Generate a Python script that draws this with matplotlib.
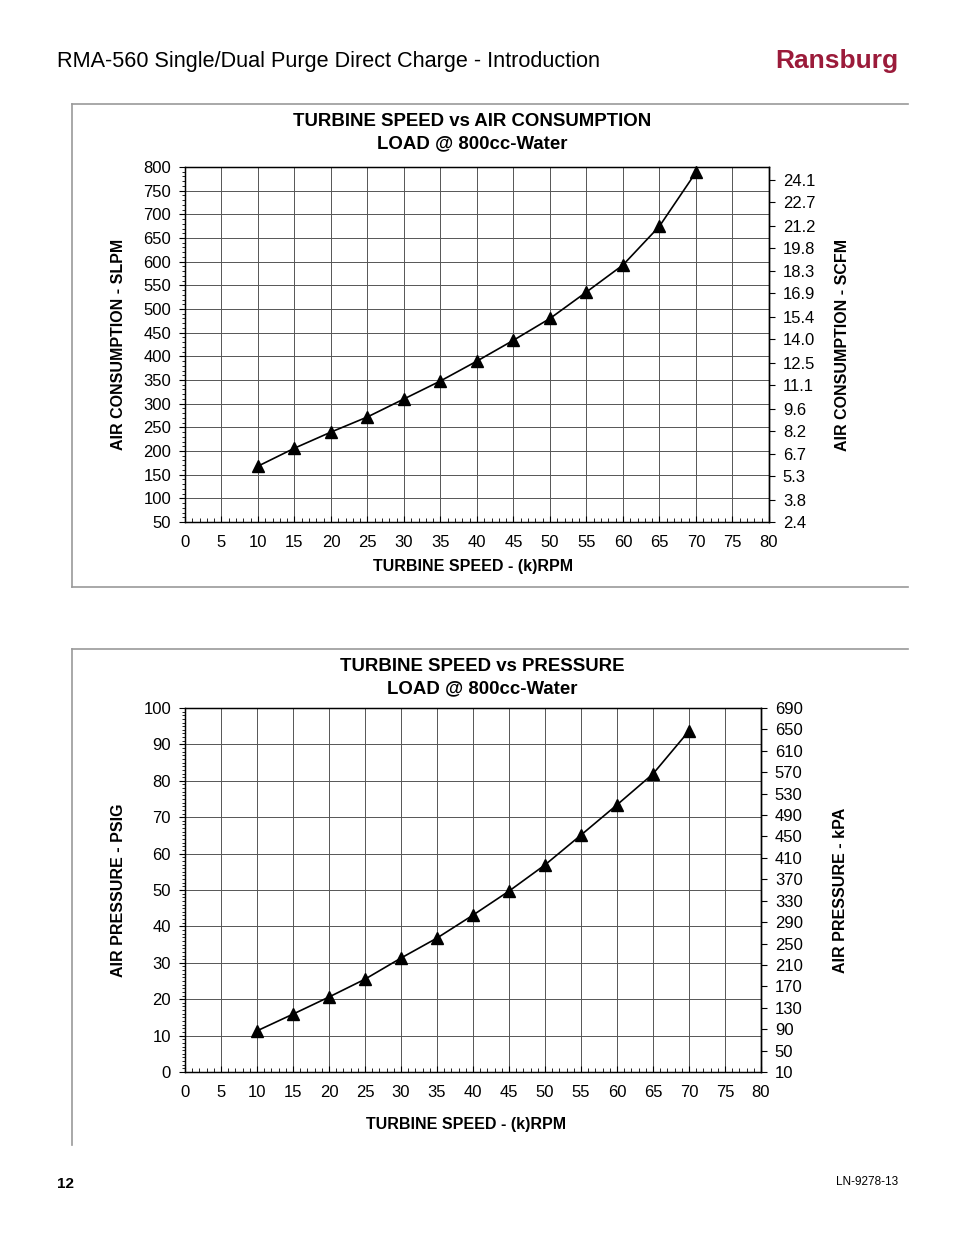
import numpy as np
import matplotlib
matplotlib.use('Agg')
import matplotlib.pyplot as plt
from matplotlib.lines import Line2D
from matplotlib.ticker import MultipleLocator

plt.rcParams['font.family'] = ['Liberation Sans', 'DejaVu Sans']

# data
speed = [10, 15, 20, 25, 30, 35, 40, 45, 50, 55, 60, 65, 70]   # (k)RPM
air_slpm = [168, 206, 240, 272, 310, 348, 390, 434, 480, 536, 593, 675, 789]
press_psig = [11.3, 15.9, 20.6, 25.5, 31.3, 36.8, 43.1, 49.7, 56.9, 65.1, 73.4, 81.9, 93.7]

scfm_labels = ['2.4', '3.8', '5.3', '6.7', '8.2', '9.6', '11.1', '12.5', '14.0',
               '15.4', '16.9', '18.3', '19.8', '21.2', '22.7', '24.1']
kpa_labels = [str(v) for v in range(10, 691, 40)]

W, H = 954, 1235
fig = plt.figure(figsize=(W / 100, H / 100), dpi=100)

def fx(px):
    return px / W

def fy(py):
    return 1 - py / H

# page header / footer
fig.text(fx(57), fy(62), 'RMA-560 Single/Dual Purge Direct Charge - Introduction',
         fontsize=15.6, va='center', ha='left')
fig.text(fx(898), fy(61), 'Ransburg', fontsize=19, fontweight='bold', color='#9b1b3a',
         va='center', ha='right')
fig.text(fx(57), fy(1184), '12', fontsize=11, fontweight='bold', va='center', ha='left')
fig.text(fx(898), fy(1182), 'LN-9278-13', fontsize=8.5, va='center', ha='right')

# frame lines around the chart panels
gray = '#999999'
for xs, ys in [((72, 908), (104, 104)), ((72, 72), (104, 587)), ((72, 908), (587, 587)),
               ((72, 908), (649, 649)), ((72, 72), (649, 1145))]:
    fig.add_artist(Line2D([fx(xs[0]), fx(xs[1])], [fy(ys[0]), fy(ys[1])],
                          color=gray, lw=1.2, transform=fig.transFigure))


def make_chart(rect, y, ylim, ymajor, yminor, rlim, rticks, rlabels,
               title, title_x, title_y, ylab, rlab, ylab_x, rlab_x, xlab_x, xlab_y):
    ax = fig.add_axes(rect)
    ax.plot(speed, y, color='black', lw=1.2, marker='^', ms=8, mfc='black', mec='black',
            zorder=3, clip_on=False)
    ax.set_xlim(0, 80)
    ax.set_ylim(*ylim)
    ax.xaxis.set_major_locator(MultipleLocator(5))
    ax.xaxis.set_minor_locator(MultipleLocator(1))
    ax.yaxis.set_major_locator(MultipleLocator(ymajor))
    ax.yaxis.set_minor_locator(MultipleLocator(yminor))
    ax.grid(True, which='major', color='#555555', lw=0.7)
    ax.set_axisbelow(True)
    for s in ax.spines.values():
        s.set_linewidth(1.0)
        s.set_color('black')
    ax.tick_params(axis='x', which='major', direction='in', length=4, labelsize=12, pad=9.5)
    ax.tick_params(axis='x', which='minor', direction='in', length=3)
    ax.tick_params(axis='y', which='major', direction='out', length=4, labelsize=12, pad=6)
    ax.tick_params(axis='y', which='minor', direction='out', length=2)

    rax = ax.twinx()
    rax.set_ylim(*rlim)
    rax.set_yticks(rticks)
    rax.set_yticklabels(rlabels)
    rax.tick_params(axis='y', direction='out', length=4.5, labelsize=12, pad=5.5)
    rax.spines['right'].set_linewidth(1.0)

    fig.text(fx(title_x), fy(title_y), title, fontsize=13.4, fontweight='bold',
             ha='center', va='center')
    fig.text(fx(title_x), fy(title_y + 22), 'LOAD @ 800cc-Water', fontsize=13.4,
             fontweight='bold', ha='center', va='center')
    fig.text(fx(xlab_x), fy(xlab_y), 'TURBINE SPEED - (k)RPM', fontsize=11.5,
             fontweight='bold', ha='center', va='center')
    mid = rect[1] + rect[3] / 2
    fig.text(fx(ylab_x), mid, ylab, fontsize=11.5, fontweight='bold', rotation=90,
             ha='center', va='center')
    fig.text(fx(rlab_x), mid, rlab, fontsize=11.5, fontweight='bold', rotation=90,
             ha='center', va='center')
    return ax


# chart 1: air consumption
scfm_vals = [float(s) for s in scfm_labels]
make_chart([fx(185), fy(522), fx(769) - fx(185), fy(167) - fy(522)],
           air_slpm, (50, 800), 50, 10,
           (2.4, 24.92), scfm_vals, scfm_labels,
           'TURBINE SPEED vs AIR CONSUMPTION', 472, 122,
           'AIR CONSUMPTION - SLPM', 'AIR CONSUMPTION - SCFM', 119, 843, 473, 567)

# chart 2: pressure
kpa_vals = [int(s) for s in kpa_labels]
make_chart([fx(185), fy(1072), fx(761) - fx(185), fy(708) - fy(1072)],
           press_psig, (0, 100), 10, 1,
           (10, 690), kpa_vals, kpa_labels,
           'TURBINE SPEED vs PRESSURE', 482, 667,
           'AIR PRESSURE - PSIG', 'AIR PRESSURE - kPA', 119, 841, 466, 1125)

fig.savefig('out.png', dpi=100)
